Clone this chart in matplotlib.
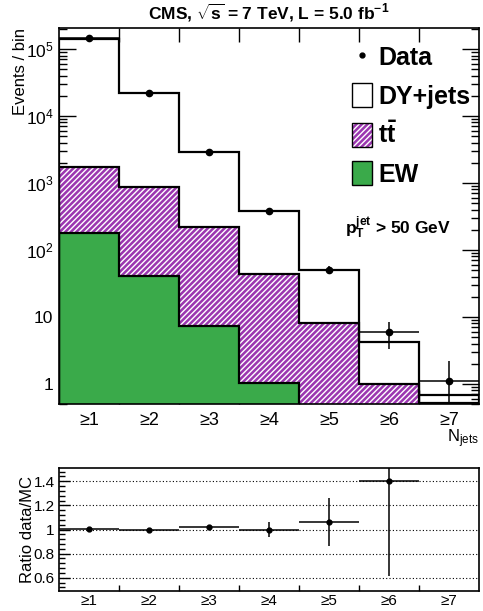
import matplotlib

matplotlib.use("Agg")

import matplotlib.pyplot as plt
import numpy as np
from matplotlib.legend_handler import HandlerTuple
from matplotlib.lines import Line2D
from matplotlib.patches import Patch
from matplotlib.ticker import AutoMinorLocator, FixedLocator, LogLocator, NullFormatter

plt.rcParams["font.family"] = ["Liberation Sans", "DejaVu Sans"]
plt.rcParams["mathtext.fontset"] = "custom"
plt.rcParams["mathtext.rm"] = "Liberation Sans"
plt.rcParams["mathtext.it"] = "Liberation Sans:italic"
plt.rcParams["mathtext.bf"] = "Liberation Sans:bold"
plt.rcParams["axes.unicode_minus"] = False
plt.rcParams["hatch.linewidth"] = 1.0

# --- values ---
BIN_LABELS = ["≥1", "≥2", "≥3", "≥4", "≥5", "≥6", "≥7"]
EW = [181, 41, 7.2, 1.02, 0.3, 0.1, 0.01]
TTBAR = [1569, 839, 216, 43, 7.9, 0.9, 0.5]
DYJETS = [140250, 21320, 2707, 341, 41.8, 3.2, 0.18]
DATA = [144000, 22400, 2930, 380, 50, 5.9, 1.1]
DATA_ERR_LO = [380, 150, 54, 19, 7, 2.6, 1.0]
DATA_ERR_HI = [380, 150, 54, 19, 7, 2.6, 1.1]
RATIO = [1.008, 0.996, 1.017, 1.0, 1.063, 1.40, np.nan]
RATIO_ERR_LO = [0.004, 0.006, 0.019, 0.063, 0.199, 0.786, np.nan]
RATIO_ERR_HI = [0.004, 0.006, 0.019, 0.064, 0.196, 0.79, np.nan]

PURPLE = "#9b36b0"
GREEN = "#3aaa4a"

edges = np.arange(0.5, len(BIN_LABELS) + 1.0, 1.0)
centers = np.arange(1, len(BIN_LABELS) + 1)
ew = np.array(EW)
tt_top = ew + np.array(TTBAR)
total = tt_top + np.array(DYJETS)

fig = plt.figure(figsize=(4.83, 6.11), dpi=100)
ax = fig.add_axes([59 / 483, 1 - 404 / 611, 420 / 483, 376 / 611])
axr = fig.add_axes([59 / 483, 1 - 591 / 611, 420 / 483, 123 / 611])

base = 1e-3
ax.stairs(total, edges, baseline=base, fill=True, color="white", zorder=1)
ax.stairs(total, edges, baseline=base, color="black", linewidth=1.6, zorder=4)
ax.stairs(tt_top, edges, baseline=base, fill=True, facecolor=PURPLE,
          edgecolor="white", hatch="//////", linewidth=0, zorder=2)
ax.stairs(tt_top, edges, baseline=base, color="black", linewidth=1.6, zorder=4)
ax.stairs(ew, edges, baseline=base, fill=True, color=GREEN, zorder=3)
ax.stairs(ew, edges, baseline=base, color="black", linewidth=1.6, zorder=4)

ax.errorbar(centers, DATA, xerr=0.5, yerr=[DATA_ERR_LO, DATA_ERR_HI],
            fmt="o", color="black", markersize=4.5, elinewidth=1.1,
            capsize=0, zorder=6)

ax.set_yscale("log")
ax.set_xlim(edges[0], edges[-1])
ax.set_ylim(0.5, 2.06e5)
ax.yaxis.set_major_locator(FixedLocator([1, 10, 1e2, 1e3, 1e4, 1e5]))
ax.set_yticklabels(["1", "10", "$10^{2}$", "$10^{3}$", "$10^{4}$", "$10^{5}$"])
ax.yaxis.set_minor_locator(LogLocator(base=10, subs=np.arange(2, 10), numticks=20))
ax.yaxis.set_minor_formatter(NullFormatter())
ax.tick_params(axis="y", which="major", direction="in", length=12, width=1.0,
               left=True, right=True, labelsize=12.5, pad=4)
ax.tick_params(axis="y", which="minor", direction="in", length=6, width=1.0,
               left=True, right=True)

ax.set_xticks(centers)
ax.set_xticklabels(BIN_LABELS)
ax.xaxis.set_minor_locator(FixedLocator(edges[1:-1]))
ax.tick_params(axis="x", which="major", length=0, labelsize=13, pad=6)
ax.tick_params(axis="x", which="minor", direction="in", length=10, width=1.0,
               top=True, bottom=True)
for side in ax.spines.values():
    side.set_linewidth(1.2)
    side.set_zorder(10)

ax.set_ylabel("Events / bin", fontsize=12, loc="top", labelpad=-2)
ax.text(1.0, -0.062, r"N$_{\mathrm{jets}}$", transform=ax.transAxes,
        ha="right", va="top", fontsize=12)
ax.text(0.807, 0.468, r"$\mathbf{p_{T}^{jet}}$ > 50 GeV", transform=ax.transAxes,
        ha="center", va="center", fontsize=12.5, fontweight="bold")

handles = [
    Line2D([], [], marker="o", color="black", linestyle="none", markersize=3.5),
    Patch(facecolor="white", edgecolor="black", linewidth=1.0),
    (Patch(facecolor=PURPLE, edgecolor="white", hatch="//////", linewidth=0),
     Patch(fill=False, edgecolor="black", linewidth=1.0)),
    Patch(facecolor=GREEN, edgecolor="black", linewidth=1.0),
]
ax.legend(handles, ["Data", "DY+jets", r"$\mathbf{t\bar{t}}$", "EW"],
          loc="upper left", bbox_to_anchor=(0.697, 0.955), frameon=False,
          prop={"weight": "bold", "size": 18}, handlelength=0.8,
          handleheight=1.1, labelspacing=0.52, handletextpad=0.25,
          borderpad=0, borderaxespad=0,
          handler_map={tuple: HandlerTuple(ndivide=1, pad=0)})

fig.text(0.557, 0.979, r"CMS, $\mathbf{\sqrt{s}}$ = 7 TeV, L = 5.0 fb$^{\mathbf{-1}}$",
         ha="center", va="center", fontsize=12.5, fontweight="bold")

# --- ratio panel ---
for yv in [0.6, 0.8, 1.0, 1.2, 1.4]:
    axr.axhline(yv, color="black", linestyle=(0, (1, 2)), linewidth=0.8, zorder=1)
axr.errorbar(centers, RATIO, xerr=0.5, yerr=[RATIO_ERR_LO, RATIO_ERR_HI],
             fmt="o", color="black", markersize=3.5, elinewidth=1.1,
             capsize=0, zorder=5)
axr.set_xlim(edges[0], edges[-1])
axr.set_ylim(0.49, 1.51)
axr.set_yticks([0.6, 0.8, 1.0, 1.2, 1.4])
axr.set_yticklabels(["0.6", "0.8", "1", "1.2", "1.4"])
axr.yaxis.set_minor_locator(AutoMinorLocator(5))
axr.tick_params(axis="y", which="major", direction="in", length=8, width=1.0,
                labelsize=11, pad=3)
axr.tick_params(axis="y", which="minor", direction="in", length=4, width=1.0)
axr.set_xticks(centers)
axr.set_xticklabels(BIN_LABELS)
axr.xaxis.set_minor_locator(FixedLocator(edges[1:-1]))
axr.tick_params(axis="x", which="major", length=0, labelsize=11, pad=2)
axr.tick_params(axis="x", which="minor", direction="in", length=4, width=1.0)
for side in axr.spines.values():
    side.set_linewidth(1.2)
axr.set_ylabel("Ratio data/MC", fontsize=12, labelpad=-1)

fig.savefig("out.png", dpi=100)
